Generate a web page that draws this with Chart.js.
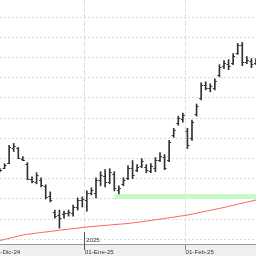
<!DOCTYPE html>
<html>
<head>
<meta charset="utf-8">
<script src="https://cdn.jsdelivr.net/npm/chart.js@4/dist/chart.umd.min.js"></script>
<style>
  html, body { margin: 0; padding: 0; background: #fff; }
  canvas { display: block; }
</style>
</head>
<body>
<canvas id="chart" width="256" height="256"></canvas>
<script>
// trading days (Dec 2 sits just off the left edge)
const dates = [
  '2024-12-02', '2024-12-03', '2024-12-04', '2024-12-05', '2024-12-06', '2024-12-09', '2024-12-10',
  '2024-12-11', '2024-12-12', '2024-12-13', '2024-12-16', '2024-12-17', '2024-12-18', '2024-12-19',
  '2024-12-20', '2024-12-23', '2024-12-24', '2024-12-27', '2024-12-30', '2024-12-31',
  '2025-01-02', '2025-01-03', '2025-01-06', '2025-01-07', '2025-01-08', '2025-01-09', '2025-01-10',
  '2025-01-13', '2025-01-14', '2025-01-15', '2025-01-16', '2025-01-17', '2025-01-20', '2025-01-21',
  '2025-01-22', '2025-01-23', '2025-01-24', '2025-01-27', '2025-01-28', '2025-01-29', '2025-01-30',
  '2025-01-31',
  '2025-02-03', '2025-02-04', '2025-02-05', '2025-02-06', '2025-02-07', '2025-02-10', '2025-02-11',
  '2025-02-12', '2025-02-13', '2025-02-14', '2025-02-17', '2025-02-18', '2025-02-19', '2025-02-20',
  '2025-02-21', '2025-02-24'
];

const opens = [null,
  8.68, 8.71, 8.76, 8.90, 8.90, 8.80, 8.75, 8.60, 8.57, 8.59, 8.53, 8.43, 8.27, 8.24, 8.25, 8.26, 8.26, 8.32, 8.39,
  8.39, 8.46, 8.46, 8.59, 8.63, 8.57, 8.65, 8.49, 8.55, 8.61, 8.71, 8.69, 8.73, 8.72, 8.68, 8.71, 8.79, 8.82, 8.79, 9.03, 9.15, 9.19,
  9.07, 9.00, 9.24, 9.40, 9.53, 9.50, 9.50, 9.63, 9.72, 9.74, 9.75, 9.85, 9.92, 9.76, 9.77, 9.75];
const highs = [null,
  8.70, 8.75, 8.93, 8.95, 8.91, 8.82, 8.76, 8.62, 8.66, 8.61, 8.54, 8.47, 8.29, 8.29, 8.28, 8.29, 8.34, 8.41, 8.42,
  8.48, 8.51, 8.61, 8.67, 8.69, 8.70, 8.67, 8.53, 8.61, 8.73, 8.78, 8.74, 8.80, 8.74, 8.75, 8.81, 8.86, 8.84, 8.98, 9.10, 9.22, 9.25,
  9.10, 9.18, 9.34, 9.55, 9.56, 9.54, 9.59, 9.73, 9.77, 9.78, 9.84, 9.94, 9.95, 9.81, 9.79, 9.79];
const lows = [null,
  8.67, 8.70, 8.75, 8.87, 8.80, 8.78, 8.59, 8.56, 8.55, 8.52, 8.40, 8.37, 8.21, 8.11, 8.21, 8.23, 8.23, 8.29, 8.32,
  8.28, 8.44, 8.41, 8.53, 8.52, 8.55, 8.48, 8.45, 8.53, 8.59, 8.60, 8.67, 8.71, 8.66, 8.66, 8.67, 8.77, 8.69, 8.77, 9.01, 9.13, 9.16,
  8.90, 8.98, 9.22, 9.38, 9.48, 9.46, 9.48, 9.61, 9.69, 9.68, 9.73, 9.83, 9.72, 9.74, 9.70, 9.73];
const closes = [null,
  8.69, 8.74, 8.91, 8.92, 8.81, 8.79, 8.60, 8.58, 8.64, 8.54, 8.42, 8.39, 8.23, 8.21, 8.26, 8.27, 8.32, 8.39, 8.40,
  8.46, 8.49, 8.59, 8.64, 8.57, 8.67, 8.51, 8.51, 8.59, 8.71, 8.64, 8.72, 8.78, 8.69, 8.73, 8.79, 8.83, 8.71, 8.96, 9.08, 9.20, 9.23,
  8.93, 9.16, 9.32, 9.53, 9.50, 9.52, 9.57, 9.71, 9.75, 9.72, 9.82, 9.92, 9.76, 9.78, 9.74, 9.77];

// moving average (red line)
const movingAvg = [7.979,
  7.989, 7.999, 8.010, 8.021, 8.032, 8.043, 8.050, 8.056, 8.062, 8.068, 8.073, 8.079, 8.084, 8.090, 8.095, 8.101, 8.106, 8.111, 8.117,
  8.122, 8.126, 8.130, 8.134, 8.138, 8.142, 8.146, 8.150, 8.153, 8.157, 8.163, 8.169, 8.175, 8.181, 8.187, 8.194, 8.200, 8.207, 8.214, 8.220, 8.227, 8.234,
  8.241, 8.250, 8.259, 8.269, 8.278, 8.287, 8.297, 8.306, 8.316, 8.327, 8.337, 8.348, 8.358, 8.369, 8.379, 8.390];

// green support zone, starts on Jan 10
const zoneStart = 26;
const zoneTop = 8.45;
const zoneBottom = 8.40;

const yTicks = [8.0, 8.2, 8.4, 8.6, 8.8, 9.0, 9.2, 9.4, 9.6, 9.8, 10.0, 10.2];
const meses = ['Ene', 'Feb', 'Mar', 'Abr', 'May', 'Jun', 'Jul', 'Ago', 'Sep', 'Oct', 'Nov', 'Dic'];

const barColor = '#333333';
const fontFamily = '"Liberation Sans", Arial, sans-serif';
const fontSize = 6.2;

// month boundaries sit half a bar before the first session of each month
const monthBounds = [];
dates.forEach((d, i) => {
  if (i === 0 || d.slice(5, 7) !== dates[i - 1].slice(5, 7)) monthBounds.push(i - 0.5);
});

function monthLabel(v) {
  const d = dates[Math.round(v + 0.5)];
  return '01-' + meses[parseInt(d.slice(5, 7), 10) - 1] + '-' + d.slice(2, 4);
}

const rangeData = dates.map((d, i) => ({ x: i, y: highs[i] == null ? null : [lows[i], highs[i]] }));
const maData = movingAvg.map((v, i) => ({ x: i, y: v }));
const zoneTopData = dates.map((d, i) => ({ x: i, y: i >= zoneStart ? zoneTop : null }));
const zoneBottomData = dates.map((d, i) => ({ x: i, y: i >= zoneStart ? zoneBottom : null }));

// open / close ticks, label band, month labels, year marker
const ohlcPlugin = {
  id: 'ohlcPlugin',
  beforeDraw(chart) {
    const { ctx, scales: { x } } = chart;
    ctx.save();
    ctx.fillStyle = '#f0f0f0';
    ctx.fillRect(0, x.top, chart.width, chart.height - x.top);
    ctx.restore();
  },
  afterDatasetsDraw(chart) {
    const { ctx, scales: { y } } = chart;
    const meta = chart.getDatasetMeta(0);
    ctx.save();
    ctx.strokeStyle = barColor;
    ctx.lineWidth = 1;
    ctx.beginPath();
    meta.data.forEach((bar, i) => {
      if (opens[i] == null) return;
      const yo = Math.round(y.getPixelForValue(opens[i])) + 0.5;
      const yc = Math.round(y.getPixelForValue(closes[i])) + 0.5;
      ctx.moveTo(bar.x - 2, yo);
      ctx.lineTo(bar.x, yo);
      ctx.moveTo(bar.x, yc);
      ctx.lineTo(bar.x + 2, yc);
    });
    ctx.stroke();
    ctx.restore();
  },
  afterDraw(chart) {
    const { ctx, scales: { x } } = chart;
    ctx.save();
    ctx.font = fontSize + 'px ' + fontFamily;
    ctx.fillStyle = '#333';
    ctx.textAlign = 'left';
    ctx.textBaseline = 'alphabetic';
    // month labels, left aligned on their boundary (also the one that starts off canvas)
    monthBounds.forEach(v => {
      ctx.fillText(monthLabel(v), x.getPixelForValue(v) + 0.3, x.bottom - 2.5);
    });
    for (let i = 1; i < dates.length; i++) {
      if (dates[i].slice(0, 4) === dates[i - 1].slice(0, 4)) continue;
      const xm = Math.round(x.getPixelForValue(i - 0.5)) - 0.5;
      ctx.strokeStyle = '#555';
      ctx.lineWidth = 1;
      ctx.beginPath();
      ctx.moveTo(xm, x.top - 12);
      ctx.lineTo(xm, x.top + 6);
      ctx.stroke();
      ctx.fillText(dates[i].slice(0, 4), xm + 1.5, x.top - 2.5);
    }
    ctx.restore();
  }
};

new Chart(document.getElementById('chart'), {
  type: 'bar',
  data: {
    datasets: [
      {
        label: 'OHLC',
        data: rangeData,
        backgroundColor: barColor,
        borderWidth: 0,
        barThickness: 1,
        order: 0
      },
      {
        type: 'line',
        label: 'Media',
        data: maData,
        borderColor: 'rgb(255, 95, 95)',
        borderWidth: 1,
        pointRadius: 0,
        fill: false,
        order: 1
      },
      {
        type: 'line',
        label: 'Zona sup',
        data: zoneTopData,
        borderWidth: 0,
        borderColor: 'rgba(0,0,0,0)',
        pointRadius: 0,
        fill: false,
        order: 3
      },
      {
        type: 'line',
        label: 'Zona inf',
        data: zoneBottomData,
        borderWidth: 0,
        borderColor: 'rgba(0,0,0,0)',
        backgroundColor: 'rgb(200, 250, 200)',
        pointRadius: 0,
        fill: '-1',
        order: 2
      }
    ]
  },
  options: {
    responsive: false,
    animation: false,
    events: [],
    layout: { autoPadding: false, padding: 0 },
    plugins: {
      legend: { display: false },
      tooltip: { enabled: false }
    },
    scales: {
      x: {
        type: 'linear',
        min: 1,
        max: dates.length - 1,
        offset: false,
        afterFit: s => { s.height = 12; },
        afterBuildTicks: s => { s.ticks = monthBounds.map(v => ({ value: v })); },
        border: { display: true, color: '#9a9a9a', dash: [5, 2] },
        grid: {
          offset: false,
          color: '#e0e0e0',
          tickColor: '#888',
          tickLength: 6,
          lineWidth: 1
        },
        ticks: { display: false }
      },
      y: {
        position: 'right',
        min: 7.954,
        max: 10.37,
        afterBuildTicks: s => { s.ticks = yTicks.map(v => ({ value: v })); },
        border: { display: false, dash: [2, 2] },
        grid: { color: '#dcdcdc', drawTicks: false },
        ticks: { display: false }
      }
    }
  },
  plugins: [ohlcPlugin]
});
</script>
</body>
</html>
